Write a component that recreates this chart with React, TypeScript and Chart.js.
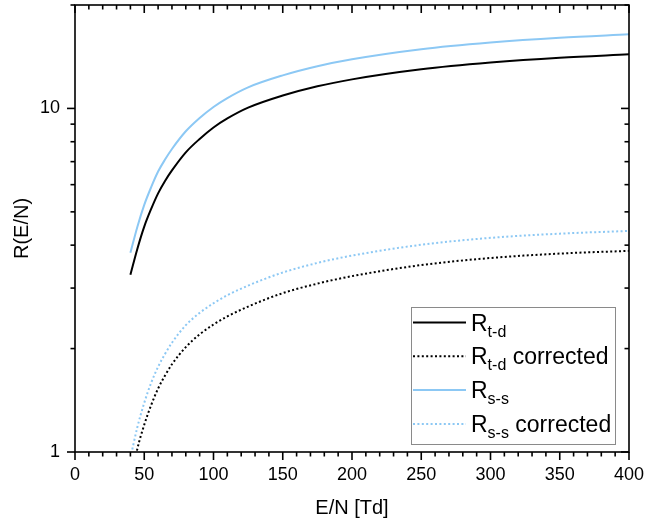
import React, { useEffect, useRef } from 'react';
import { Chart, registerables } from 'chart.js';

Chart.register(...registerables);

// E/N values [Td]
const EN = [40, 45, 50, 55, 60, 65, 70, 80, 90, 100, 110, 125, 150, 175, 200, 250, 300, 350, 400];
// Series
const R_TD = [3.28, 3.9, 4.53, 5.1, 5.66, 6.15, 6.6, 7.45, 8.15, 8.8, 9.35, 10.05, 10.9, 11.6, 12.15, 13.0, 13.6, 14.05, 14.37];
const R_TD_CORR = [0.8, 1.02, 1.2, 1.37, 1.53, 1.67, 1.8, 2.02, 2.2, 2.35, 2.48, 2.65, 2.9, 3.09, 3.25, 3.5, 3.67, 3.78, 3.85];
const R_SS = [3.8, 4.52, 5.24, 5.9, 6.55, 7.1, 7.62, 8.58, 9.38, 10.1, 10.72, 11.52, 12.48, 13.27, 13.9, 14.87, 15.55, 16.06, 16.43];
const R_SS_CORR = [0.96, 1.18, 1.39, 1.59, 1.77, 1.93, 2.08, 2.34, 2.54, 2.71, 2.86, 3.05, 3.33, 3.55, 3.73, 4.01, 4.2, 4.32, 4.4];

// Legend label parts: main, subscript, suffix
const LABEL_MAIN = ['R', 'R', 'R', 'R'];
const LABEL_SUB = ['t-d', 't-d', 's-s', 's-s'];
const LABEL_REST = ['', ' corrected', '', ' corrected'];

// Axis ticks
const X_MIN = 0;
const X_MAX = 400;
const X_MAJOR_STEP = 50;
const X_MINOR_STEP = 10;
const Y_MIN = 1;
const Y_MAX = 20;
const Y_LABEL_TICKS = [1, 10];
const Y_ALL_TICKS = [1, 2, 3, 4, 5, 6, 7, 8, 9, 10, 20];

const BLUE = '#8cc8f4';
const FONT = '"Liberation Sans", Arial, sans-serif';

const toXY = (ys: number[]) => EN.map((x, i) => ({ x, y: ys[i] }));

const frameTicks = {
  id: 'frameTicks',
  afterDatasetsDraw(chart: any) {
    const { ctx, chartArea: a, scales } = chart;
    const xs = scales.x;
    const ys = scales.y;
    ctx.save();
    ctx.strokeStyle = '#000';
    ctx.lineWidth = 1.6;
    ctx.lineCap = 'butt';
    const seg = (x1: number, y1: number, x2: number, y2: number) => {
      ctx.beginPath();
      ctx.moveTo(x1, y1);
      ctx.lineTo(x2, y2);
      ctx.stroke();
    };
    for (let v = X_MIN; v <= X_MAX; v += X_MINOR_STEP) {
      const px = xs.getPixelForValue(v);
      const len = v % X_MAJOR_STEP === 0 ? 8 : 4.5;
      seg(px, a.bottom, px, a.bottom + len);
      seg(px, a.top, px, a.top + len);
    }
    Y_ALL_TICKS.forEach((v) => {
      const py = ys.getPixelForValue(v);
      const len = Y_LABEL_TICKS.includes(v) ? 8 : 4.5;
      seg(a.left - len, py, a.left, py);
      seg(a.right - len, py, a.right, py);
    });
    ctx.strokeRect(a.left, a.top, a.right - a.left, a.bottom - a.top);
    ctx.restore();
  },
  afterDraw(chart: any) {
    const { ctx, chartArea: a } = chart;
    const left = a.right - 218;
    const top = a.bottom - 145;
    const w = 204;
    const h = 137;
    ctx.save();
    ctx.fillStyle = '#fff';
    ctx.fillRect(left, top, w, h);
    ctx.strokeStyle = '#8a8a8a';
    ctx.lineWidth = 1;
    ctx.strokeRect(left + 0.5, top + 0.5, w, h);
    chart.data.datasets.forEach((ds: any, i: number) => {
      const cy = top + 15.5 + i * 33.8;
      ctx.strokeStyle = ds.borderColor;
      ctx.lineWidth = 2;
      ctx.setLineDash(ds.borderDash || []);
      ctx.beginPath();
      ctx.moveTo(left + 2, cy);
      ctx.lineTo(left + 55, cy);
      ctx.stroke();
      ctx.setLineDash([]);
      ctx.fillStyle = '#000';
      ctx.textBaseline = 'alphabetic';
      ctx.textAlign = 'left';
      let tx = left + 60;
      const base = cy + 8;
      ctx.font = `23px ${FONT}`;
      ctx.fillText(LABEL_MAIN[i], tx, base);
      tx += ctx.measureText(LABEL_MAIN[i]).width;
      ctx.font = `16px ${FONT}`;
      ctx.fillText(LABEL_SUB[i], tx, base + 6);
      tx += ctx.measureText(LABEL_SUB[i]).width;
      ctx.font = `23px ${FONT}`;
      ctx.fillText(LABEL_REST[i], tx, base);
    });
    ctx.restore();
  },
};

export default function App() {
  const ref = useRef<HTMLCanvasElement | null>(null);
  useEffect(() => {
    if (!ref.current) return;
    const chart = new Chart(ref.current, {
      type: 'line',
      data: {
        datasets: [
          { label: 'R_t-d', data: toXY(R_TD), borderColor: '#000', borderWidth: 2, pointRadius: 0, cubicInterpolationMode: 'monotone' },
          { label: 'R_t-d corrected', data: toXY(R_TD_CORR), borderColor: '#000', borderWidth: 2, borderDash: [2, 2.4], pointRadius: 0, cubicInterpolationMode: 'monotone' },
          { label: 'R_s-s', data: toXY(R_SS), borderColor: BLUE, borderWidth: 2, pointRadius: 0, cubicInterpolationMode: 'monotone' },
          { label: 'R_s-s corrected', data: toXY(R_SS_CORR), borderColor: BLUE, borderWidth: 2, borderDash: [2, 2.4], pointRadius: 0, cubicInterpolationMode: 'monotone' },
        ],
      } as any,
      options: {
        animation: false,
        responsive: false,
        maintainAspectRatio: false,
        layout: { padding: { top: 5, right: 37, left: 0, bottom: 0 } },
        plugins: { legend: { display: false }, tooltip: { enabled: false } },
        scales: {
          x: {
            type: 'linear',
            min: X_MIN,
            max: X_MAX,
            grid: { display: false, drawTicks: false },
            border: { display: false },
            ticks: { stepSize: X_MAJOR_STEP, autoSkip: false, maxRotation: 0, color: '#000', padding: 12, font: { family: FONT, size: 18 } },
            title: { display: true, text: 'E/N [Td]', color: '#000', font: { family: FONT, size: 20 }, padding: { top: 0, bottom: 5 } },
            afterFit: (s: any) => { s.height = 73; s.paddingLeft = 0; s.paddingRight = 0; },
          },
          y: {
            type: 'logarithmic',
            min: Y_MIN,
            max: Y_MAX,
            grid: { display: false, drawTicks: false },
            border: { display: false },
            afterBuildTicks: (s: any) => { s.ticks = Y_LABEL_TICKS.map((v) => ({ value: v })); },
            ticks: { color: '#000', padding: 15, font: { family: FONT, size: 18 }, callback: (v: any) => String(v) },
            title: { display: true, text: 'R(E/N)', color: '#000', font: { family: FONT, size: 20 }, padding: { top: 10, bottom: 0 } },
            afterFit: (s: any) => { s.width = 75; s.paddingTop = 0; s.paddingBottom = 0; },
          },
        },
      } as any,
      plugins: [frameTicks],
    });
    return () => chart.destroy();
  }, []);
  return (
    <div style={{ position: 'fixed', left: 0, top: 0, width: 666, height: 525, background: '#fff' }}>
      <canvas ref={ref} width={666} height={525} style={{ display: 'block' }} />
    </div>
  );
}
